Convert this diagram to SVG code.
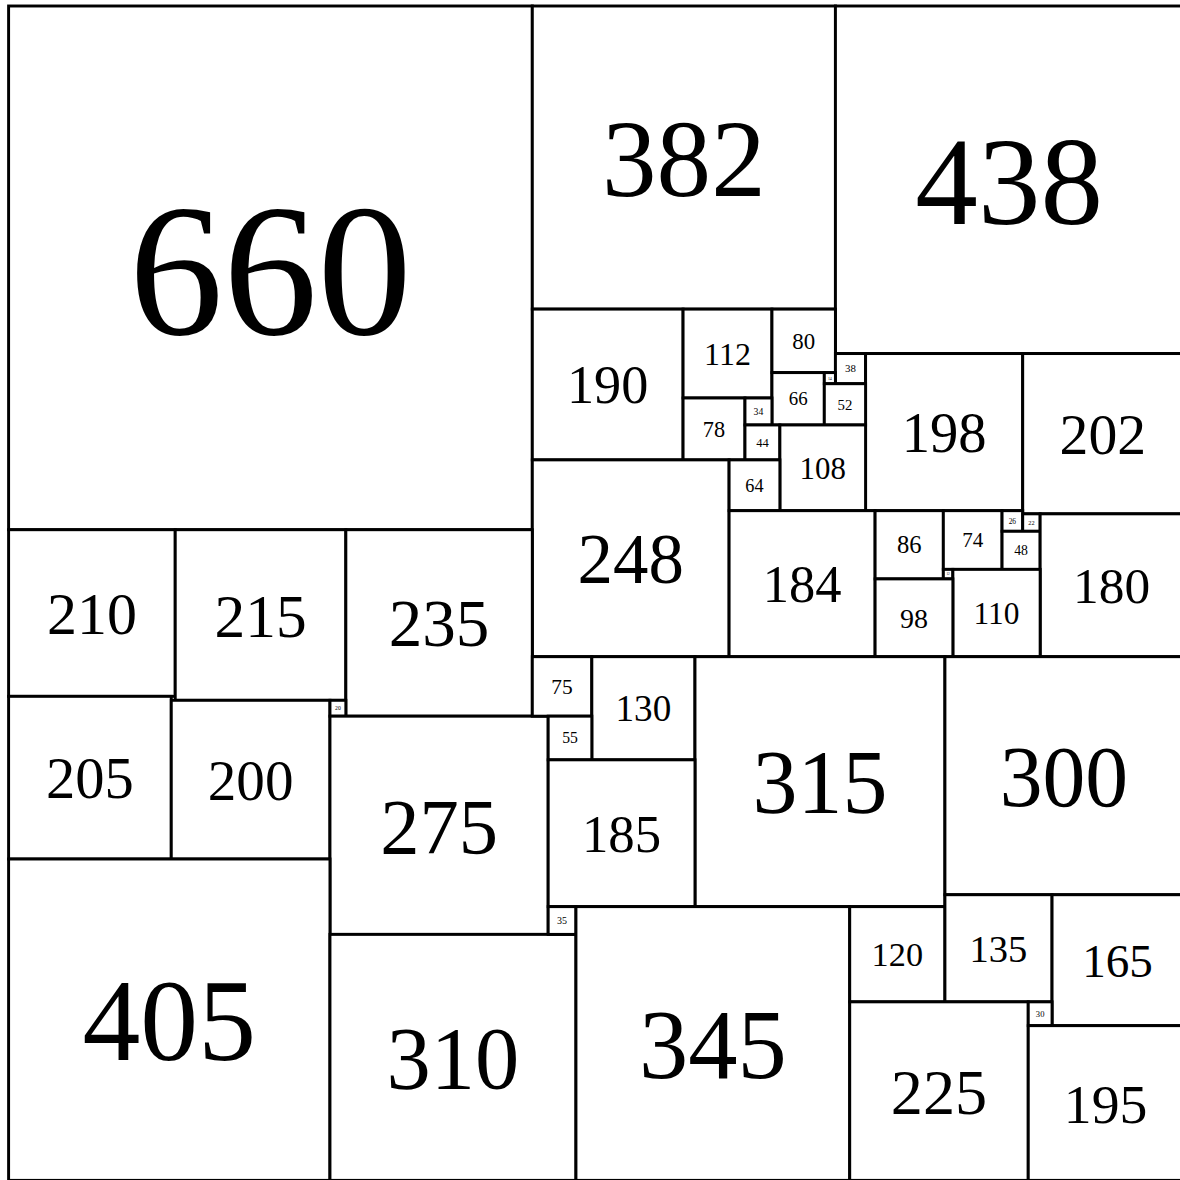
<svg xmlns="http://www.w3.org/2000/svg" width="1180" height="1180" viewBox="0 0 1180 1180">
<style>
rect{fill:#fff;stroke:#000;stroke-width:3.7}
text{font-family:"Liberation Serif","Times New Roman",serif;fill:#000;text-anchor:middle}
</style>
<rect x="0" y="0" width="1180" height="1180" style="stroke:none"/>
<g transform="translate(8.6,6) scale(0.7935)">
<g id="connectors"/>
<g id="s660"><rect x="0" y="0" width="660" height="660"/><text x="330" y="413.2" font-size="237.6">660</text></g>
<g id="s382"><rect x="660" y="0" width="382" height="382"/><text x="851" y="239.1" font-size="137.5">382</text></g>
<g id="s438"><rect x="1042" y="0" width="438" height="438"/><text x="1261" y="274.2" font-size="157.7">438</text></g>
<g id="s190"><rect x="660" y="382" width="190" height="190"/><text x="755" y="500.9" font-size="68.4">190</text></g>
<g id="s112"><rect x="850" y="382" width="112" height="112"/><text x="906" y="452.1" font-size="40.3">112</text></g>
<g id="s80"><rect x="962" y="382" width="80" height="80"/><text x="1002" y="432.1" font-size="28.8">80</text></g>
<g id="s38"><rect x="1042" y="438" width="38" height="38"/><text x="1061" y="461.8" font-size="13.7">38</text></g>
<g id="s198"><rect x="1080" y="438" width="198" height="198"/><text x="1179" y="561.9" font-size="71.3">198</text></g>
<g id="s202"><rect x="1278" y="438" width="202" height="202"/><text x="1379" y="564.5" font-size="72.7">202</text></g>
<g id="s66"><rect x="962" y="462" width="66" height="66"/><text x="995" y="503.3" font-size="23.8">66</text></g>
<g id="s14"><rect x="1028" y="462" width="14" height="14"/><text x="1035" y="470.8" font-size="5">14</text></g>
<g id="s52"><rect x="1028" y="476" width="52" height="52"/><text x="1054" y="508.6" font-size="18.7">52</text></g>
<g id="s78"><rect x="850" y="494" width="78" height="78"/><text x="889" y="542.8" font-size="28.1">78</text></g>
<g id="s34"><rect x="928" y="494" width="34" height="34"/><text x="945" y="515.3" font-size="12.2">34</text></g>
<g id="s44"><rect x="928" y="528" width="44" height="44"/><text x="950" y="555.5" font-size="15.8">44</text></g>
<g id="s108"><rect x="972" y="528" width="108" height="108"/><text x="1026" y="595.6" font-size="38.9">108</text></g>
<g id="s248"><rect x="660" y="572" width="248" height="248"/><text x="784" y="727.2" font-size="89.3">248</text></g>
<g id="s64"><rect x="908" y="572" width="64" height="64"/><text x="940" y="612.1" font-size="23">64</text></g>
<g id="s184"><rect x="908" y="636" width="184" height="184"/><text x="1000" y="751.2" font-size="66.2">184</text></g>
<g id="s86"><rect x="1092" y="636" width="86" height="86"/><text x="1135" y="689.8" font-size="31">86</text></g>
<g id="s74"><rect x="1178" y="636" width="74" height="74"/><text x="1215" y="682.3" font-size="26.6">74</text></g>
<g id="s26"><rect x="1252" y="636" width="26" height="26"/><text x="1265" y="652.3" font-size="9.4">26</text></g>
<g id="s22"><rect x="1278" y="640" width="22" height="22"/><text x="1289" y="653.8" font-size="7.9">22</text></g>
<g id="s48"><rect x="1252" y="662" width="48" height="48"/><text x="1276" y="692" font-size="17.3">48</text></g>
<g id="s180"><rect x="1300" y="640" width="180" height="180"/><text x="1390" y="752.7" font-size="64.8">180</text></g>
<g id="s12"><rect x="1178" y="710" width="12" height="12"/><text x="1184" y="717.5" font-size="4.3">12</text></g>
<g id="s110"><rect x="1190" y="710" width="110" height="110"/><text x="1245" y="778.9" font-size="39.6">110</text></g>
<g id="s98"><rect x="1092" y="722" width="98" height="98"/><text x="1141" y="783.3" font-size="35.3">98</text></g>
<g id="s210"><rect x="0" y="660" width="210" height="210"/><text x="105" y="791.5" font-size="75.6">210</text></g>
<g id="s215"><rect x="210" y="660" width="215" height="215"/><text x="317.5" y="794.6" font-size="77.4">215</text></g>
<g id="s235"><rect x="425" y="660" width="235" height="235"/><text x="542.5" y="807.1" font-size="84.6">235</text></g>
<g id="s205"><rect x="0" y="870" width="205" height="205"/><text x="102.5" y="998.3" font-size="73.8">205</text></g>
<g id="s200"><rect x="205" y="875" width="200" height="200"/><text x="305" y="1000.2" font-size="72">200</text></g>
<g id="s20"><rect x="405" y="875" width="20" height="20"/><text x="415" y="887.5" font-size="7.2">20</text></g>
<g id="s275"><rect x="405" y="895" width="275" height="275"/><text x="542.5" y="1067.2" font-size="99">275</text></g>
<g id="s405"><rect x="0" y="1075" width="405" height="405"/><text x="202.5" y="1328.5" font-size="145.8">405</text></g>
<g id="s310"><rect x="405" y="1170" width="310" height="310"/><text x="560" y="1364.1" font-size="111.6">310</text></g>
<g id="s75"><rect x="660" y="820" width="75" height="75"/><text x="697.5" y="867" font-size="27">75</text></g>
<g id="s130"><rect x="735" y="820" width="130" height="130"/><text x="800" y="901.4" font-size="46.8">130</text></g>
<g id="s315"><rect x="865" y="820" width="315" height="315"/><text x="1022.5" y="1017.2" font-size="113.4">315</text></g>
<g id="s300"><rect x="1180" y="820" width="300" height="300"/><text x="1330" y="1007.8" font-size="108">300</text></g>
<g id="s55"><rect x="680" y="895" width="55" height="55"/><text x="707.5" y="929.4" font-size="19.8">55</text></g>
<g id="s185"><rect x="680" y="950" width="185" height="185"/><text x="772.5" y="1065.8" font-size="66.6">185</text></g>
<g id="s35"><rect x="680" y="1135" width="35" height="35"/><text x="697.5" y="1156.9" font-size="12.6">35</text></g>
<g id="s345"><rect x="715" y="1135" width="345" height="345"/><text x="887.5" y="1351" font-size="124.2">345</text></g>
<g id="s120"><rect x="1060" y="1135" width="120" height="120"/><text x="1120" y="1210.1" font-size="43.2">120</text></g>
<g id="s135"><rect x="1180" y="1120" width="135" height="135"/><text x="1247.5" y="1204.5" font-size="48.6">135</text></g>
<g id="s165"><rect x="1315" y="1120" width="165" height="165"/><text x="1397.5" y="1223.3" font-size="59.4">165</text></g>
<g id="s225"><rect x="1060" y="1255" width="225" height="225"/><text x="1172.5" y="1395.9" font-size="81">225</text></g>
<g id="s30"><rect x="1285" y="1255" width="30" height="30"/><text x="1300" y="1273.8" font-size="10.8">30</text></g>
<g id="s195"><rect x="1285" y="1285" width="195" height="195"/><text x="1382.5" y="1407.1" font-size="70.2">195</text></g>
</g>
</svg>
